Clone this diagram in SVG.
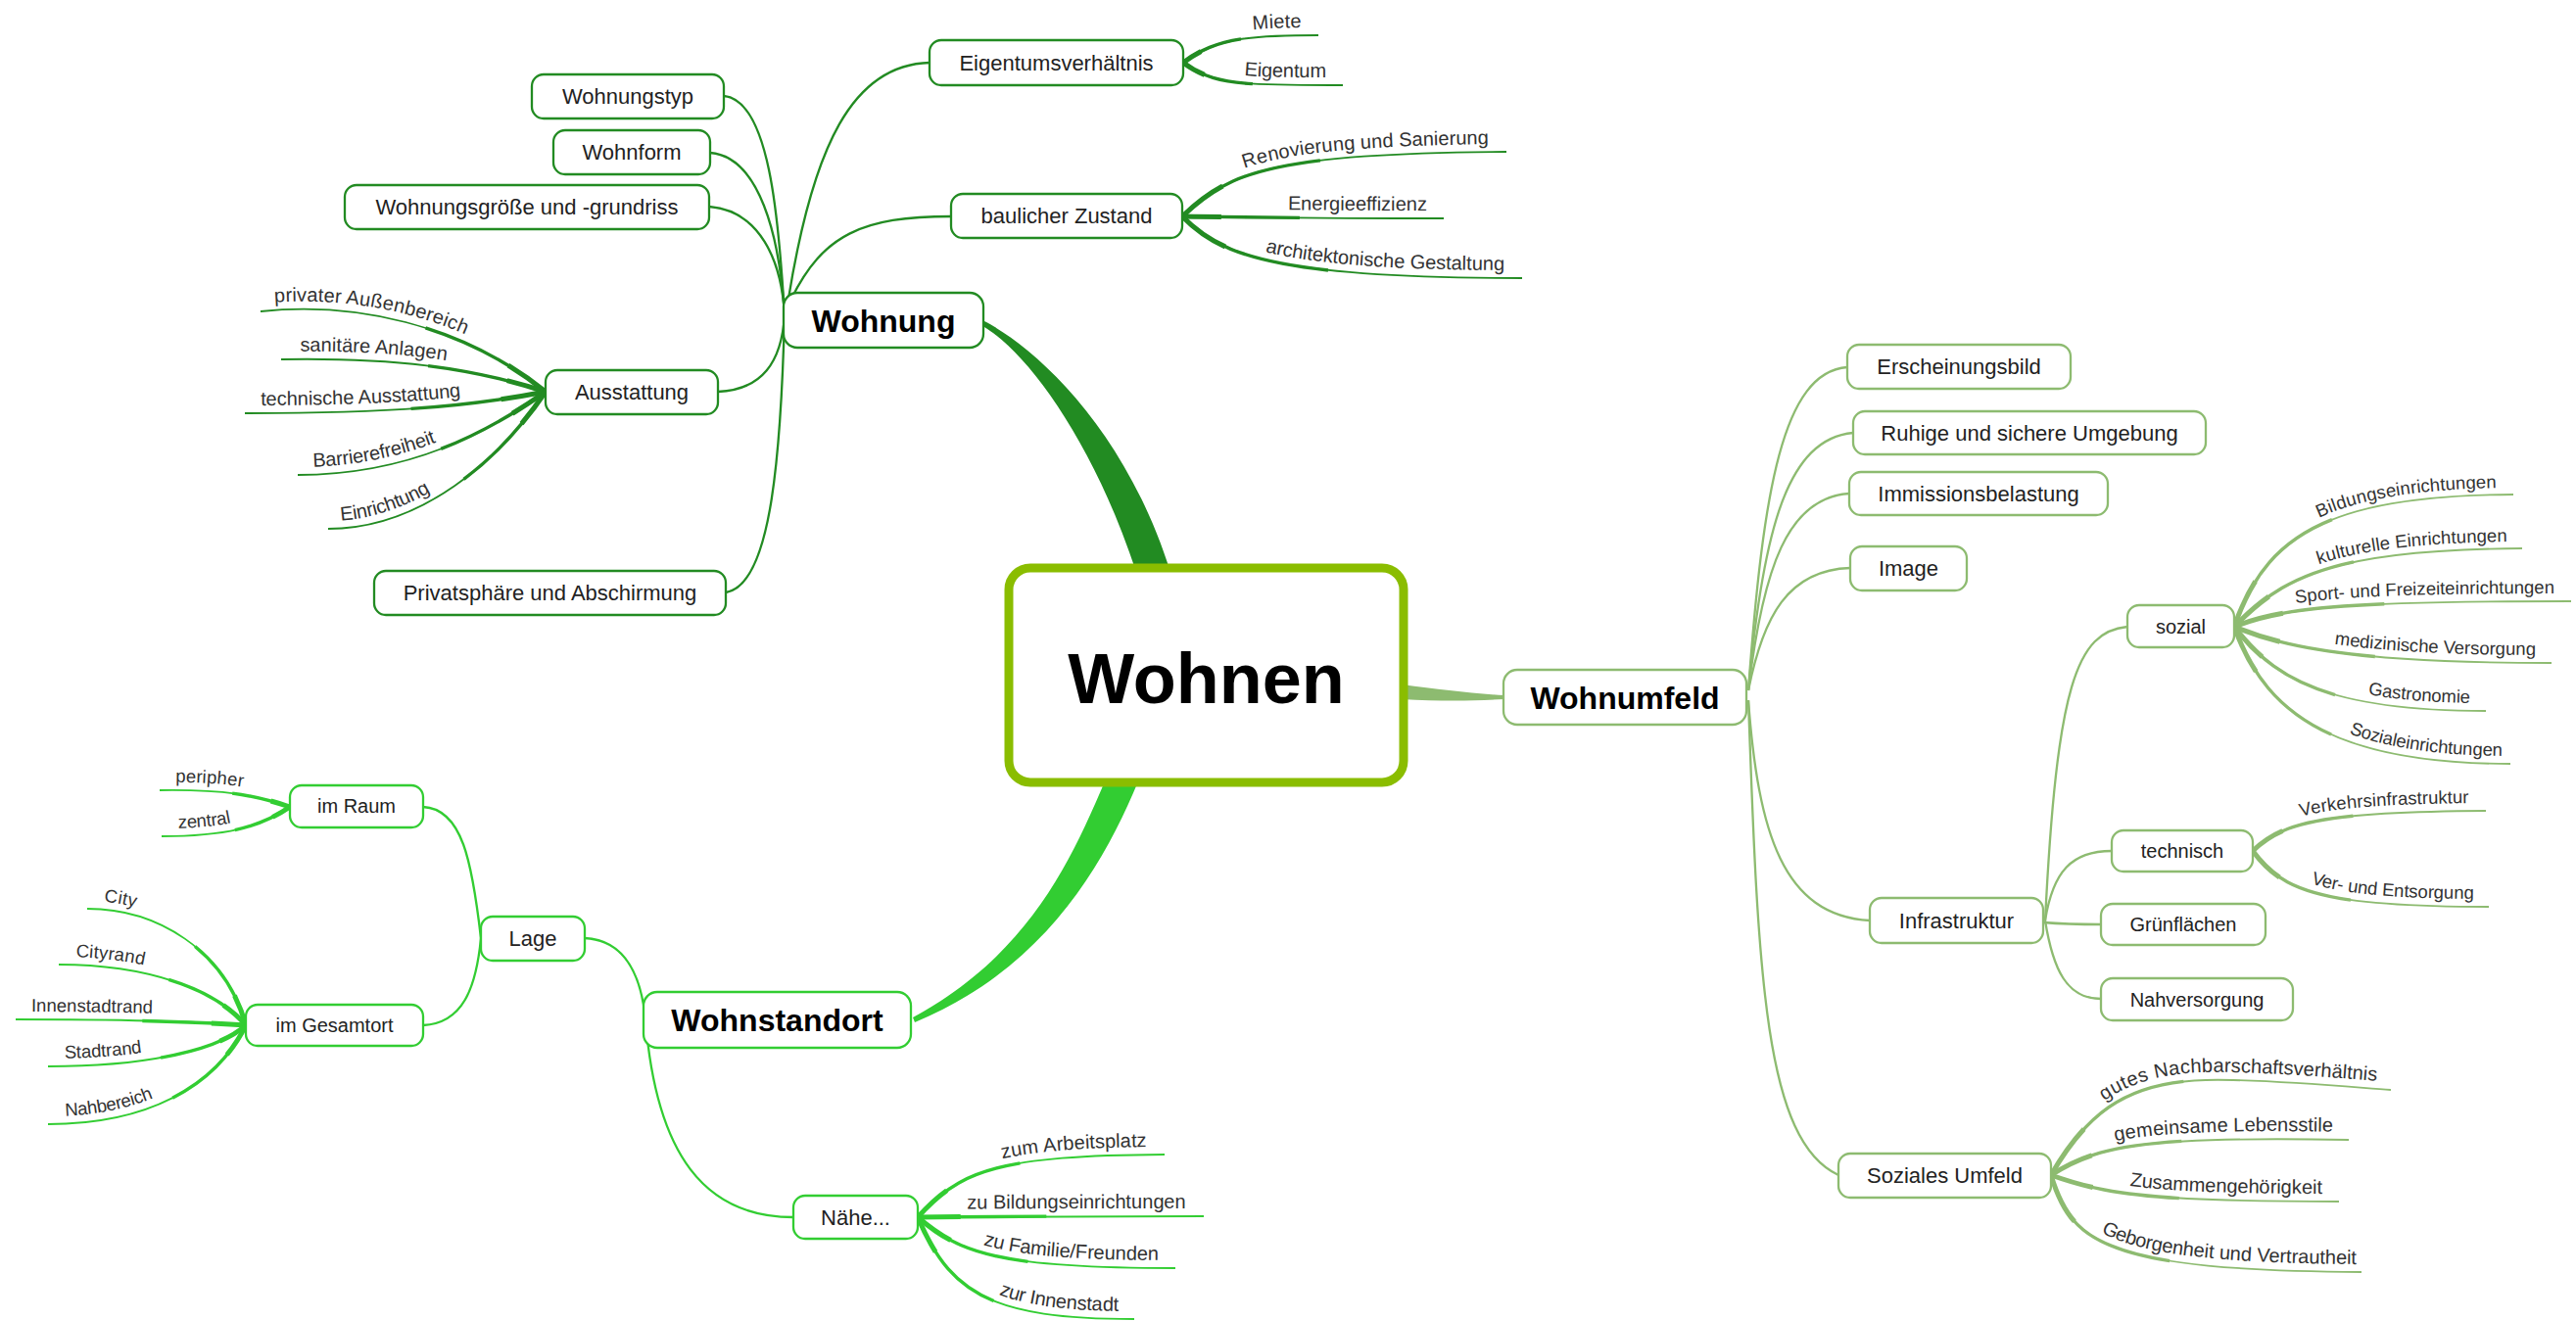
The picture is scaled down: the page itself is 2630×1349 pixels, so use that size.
<svg xmlns="http://www.w3.org/2000/svg" width="2630" height="1349" viewBox="0 0 2630 1349">
<style>
text{font-family:"Liberation Sans",Arial,sans-serif;fill:#222}
.n rect{fill:#fff;stroke-width:2.3}
.k1 rect{stroke:#228B22}
.k2 rect{stroke:#32CD32}
.k3 rect{stroke:#8DBB70}
.t0{font-size:72px;font-weight:bold;fill:#000;text-anchor:middle}
.t1{font-size:32px;font-weight:bold;fill:#000;text-anchor:middle}
.t2{font-size:22px;text-anchor:middle}
.t3{font-size:20px;text-anchor:middle}
.l3{font-size:20px;fill:#333}
.l4{font-size:18.5px;fill:#333}
.e{text-anchor:end}
.s{text-anchor:start}
.w1{stroke:#228B22;fill:none}
.w2{stroke:#32CD32;fill:none}
.w3{stroke:#8DBB70;fill:none}
.ta{stroke-width:3.4;stroke-dasharray:45 200}
.tb{stroke-width:5;stroke-dasharray:15 200}
.tc{stroke-width:3.4;stroke-dasharray:0 55 45 0}
.td{stroke-width:5;stroke-dasharray:0 85 15 0}
</style>
<g id="connectors">
  <g id="main-branches" stroke="none">
    <path fill="#228B22" d="M 1005 328 C 1052 352, 1147 432, 1195 584 L 1160 584 C 1115 448, 1048 360, 1005 334 Z"/>
    <path fill="#32CD32" d="M 1128 798 C 1093 880, 1050 975, 932 1039 L 934 1044 C 1068 988, 1127 882, 1162 798 Z"/>
    <path fill="#8DBB70" d="M 1431 699 C 1470 704, 1500 708, 1536 710 L 1536 714 C 1500 716, 1470 716, 1431 714 Z"/>
  </g>
  <g id="branches-wohnung" class="w1" stroke-width="2.3">
    <path d="M 739 98 C 785 102, 795 220, 801 322"/>
    <path d="M 725 156 C 775 160, 796 240, 801 322"/>
    <path d="M 724 211 C 775 215, 798 265, 801 322"/>
    <path d="M 733 400 C 778 398, 798 370, 801 322"/>
    <path d="M 741 605 C 785 598, 797 480, 801 322"/>
    <path d="M 805 305 C 830 150, 870 66, 949 64"/>
    <path d="M 808 305 C 840 240, 880 221, 971 221"/>
  </g>
  <g id="branches-wohnstandort" class="w2" stroke-width="2.3">
    <path d="M 597 958 C 640 960, 655 1000, 659 1041"/>
    <path d="M 659 1041 C 670 1180, 720 1243, 810 1243"/>
    <path d="M 432 824 C 472 826, 482 880, 491 958"/>
    <path d="M 432 1047 C 472 1045, 486 1010, 491 958"/>
  </g>
  <g id="branches-wohnumfeld" class="w3" stroke-width="2.3">
    <path d="M 1785 705 C 1800 500, 1820 380, 1886 375"/>
    <path d="M 1785 705 C 1800 540, 1825 448, 1892 442"/>
    <path d="M 1785 705 C 1800 580, 1825 508, 1888 504"/>
    <path d="M 1785 705 C 1800 630, 1825 582, 1889 580"/>
    <path d="M 1785 715 C 1795 850, 1820 935, 1909 940"/>
    <path d="M 1785 715 C 1795 1000, 1802 1165, 1877 1200"/>
    <path d="M 2088 940 C 2100 700, 2120 645, 2172 640"/>
    <path d="M 2088 940 C 2096 890, 2115 869, 2156 869"/>
    <path d="M 2086 942 C 2110 944, 2125 944, 2145 944"/>
    <path d="M 2088 940 C 2096 990, 2110 1020, 2145 1020"/>
  </g>
  <g id="leaves-wohnung" class="w1" stroke-width="1.8">
    <path id="L_miete" pathLength="100" d="M 1208 64 C 1240 40, 1270 36, 1346 36"/>
    <path id="L_eigentum" pathLength="100" d="M 1208 64 C 1240 88, 1275 87, 1371 87"/>
    <path id="L_renov" pathLength="100" d="M 1207 221 C 1255 175, 1300 157, 1538 155"/>
    <path id="L_energie" pathLength="100" d="M 1207 221 C 1280 222, 1350 223, 1474 223"/>
    <path id="L_archi" pathLength="100" d="M 1207 221 C 1245 260, 1300 284, 1554 284"/>
    <path id="L_priv" pathLength="100" d="M 266 318 C 360 308, 470 330, 557 400"/>
    <path id="L_sanit" pathLength="100" d="M 287 367 C 400 365, 480 375, 557 400"/>
    <path id="L_techA" pathLength="100" d="M 250 422 C 400 422, 480 415, 557 400"/>
    <path id="L_barr" pathLength="100" d="M 304 485 C 420 485, 500 440, 557 400"/>
    <path id="L_einr" pathLength="100" d="M 335 540 C 430 540, 510 470, 557 400"/>
    <use href="#L_miete" class="ta"/><use href="#L_miete" class="tb"/>
    <use href="#L_eigentum" class="ta"/><use href="#L_eigentum" class="tb"/>
    <use href="#L_renov" class="ta"/><use href="#L_renov" class="tb"/>
    <use href="#L_energie" class="ta"/><use href="#L_energie" class="tb"/>
    <use href="#L_archi" class="ta"/><use href="#L_archi" class="tb"/>
    <use href="#L_priv" class="tc"/><use href="#L_priv" class="td"/>
    <use href="#L_sanit" class="tc"/><use href="#L_sanit" class="td"/>
    <use href="#L_techA" class="tc"/><use href="#L_techA" class="td"/>
    <use href="#L_barr" class="tc"/><use href="#L_barr" class="td"/>
    <use href="#L_einr" class="tc"/><use href="#L_einr" class="td"/>
  </g>
  <g id="leaves-wohnstandort" class="w2" stroke-width="1.8">
    <path id="L_periph" pathLength="100" d="M 163 807 C 230 806, 260 812, 296 824"/>
    <path id="L_zentral" pathLength="100" d="M 165 854 C 230 854, 265 845, 296 824"/>
    <path id="L_city" pathLength="100" d="M 89 928 C 160 928, 230 970, 251 1047"/>
    <path id="L_cityrand" pathLength="100" d="M 60 985 C 150 985, 220 1010, 251 1047"/>
    <path id="L_innen" pathLength="100" d="M 16 1041 C 100 1041, 200 1043, 251 1047"/>
    <path id="L_stadtr" pathLength="100" d="M 49 1089 C 140 1089, 220 1075, 251 1047"/>
    <path id="L_nahb" pathLength="100" d="M 49 1148 C 150 1148, 220 1110, 251 1047"/>
    <path id="L_arbeit" pathLength="100" d="M 937 1243 C 980 1195, 1020 1180, 1189 1179"/>
    <path id="L_bildZ" pathLength="100" d="M 937 1243 C 1000 1242, 1100 1242, 1229 1242"/>
    <path id="L_famil" pathLength="100" d="M 937 1243 C 980 1280, 1020 1295, 1200 1295"/>
    <path id="L_innenst" pathLength="100" d="M 937 1243 C 970 1320, 1010 1347, 1158 1347"/>
    <use href="#L_periph" class="tc"/><use href="#L_periph" class="td"/>
    <use href="#L_zentral" class="tc"/><use href="#L_zentral" class="td"/>
    <use href="#L_city" class="tc"/><use href="#L_city" class="td"/>
    <use href="#L_cityrand" class="tc"/><use href="#L_cityrand" class="td"/>
    <use href="#L_innen" class="tc"/><use href="#L_innen" class="td"/>
    <use href="#L_stadtr" class="tc"/><use href="#L_stadtr" class="td"/>
    <use href="#L_nahb" class="tc"/><use href="#L_nahb" class="td"/>
    <use href="#L_arbeit" class="ta"/><use href="#L_arbeit" class="tb"/>
    <use href="#L_bildZ" class="ta"/><use href="#L_bildZ" class="tb"/>
    <use href="#L_famil" class="ta"/><use href="#L_famil" class="tb"/>
    <use href="#L_innenst" class="ta"/><use href="#L_innenst" class="tb"/>
  </g>
  <g id="leaves-wohnumfeld" class="w3" stroke-width="1.8">
    <path id="L_bild" pathLength="100" d="M 2281 640 C 2312 552, 2368 506, 2566 505"/>
    <path id="L_kult" pathLength="100" d="M 2281 640 C 2330 590, 2380 561, 2575 560"/>
    <path id="L_sport" pathLength="100" d="M 2281 640 C 2330 620, 2400 614, 2625 614"/>
    <path id="L_med" pathLength="100" d="M 2281 640 C 2330 660, 2400 677, 2605 677"/>
    <path id="L_gastro" pathLength="100" d="M 2281 640 C 2320 690, 2370 726, 2538 726"/>
    <path id="L_sozE" pathLength="100" d="M 2281 640 C 2310 720, 2370 780, 2563 780"/>
    <path id="L_verk" pathLength="100" d="M 2300 869 C 2330 840, 2370 829, 2538 828"/>
    <path id="L_versE" pathLength="100" d="M 2300 869 C 2330 910, 2370 926, 2541 926"/>
    <path id="L_nachb" pathLength="100" d="M 2094 1200 C 2140 1120, 2190 1100, 2280 1103 C 2350 1105, 2400 1110, 2441 1113"/>
    <path id="L_gemein" pathLength="100" d="M 2094 1200 C 2140 1170, 2190 1160, 2398 1164"/>
    <path id="L_zusam" pathLength="100" d="M 2094 1200 C 2150 1220, 2200 1227, 2388 1227"/>
    <path id="L_gebor" pathLength="100" d="M 2094 1200 C 2115 1270, 2150 1297, 2411 1299"/>
    <use href="#L_bild" class="ta"/><use href="#L_bild" class="tb"/>
    <use href="#L_kult" class="ta"/><use href="#L_kult" class="tb"/>
    <use href="#L_sport" class="ta"/><use href="#L_sport" class="tb"/>
    <use href="#L_med" class="ta"/><use href="#L_med" class="tb"/>
    <use href="#L_gastro" class="ta"/><use href="#L_gastro" class="tb"/>
    <use href="#L_sozE" class="ta"/><use href="#L_sozE" class="tb"/>
    <use href="#L_verk" class="ta"/><use href="#L_verk" class="tb"/>
    <use href="#L_versE" class="ta"/><use href="#L_versE" class="tb"/>
    <use href="#L_nachb" class="ta"/><use href="#L_nachb" class="tb"/>
    <use href="#L_gemein" class="ta"/><use href="#L_gemein" class="tb"/>
    <use href="#L_zusam" class="ta"/><use href="#L_zusam" class="tb"/>
    <use href="#L_gebor" class="ta"/><use href="#L_gebor" class="tb"/>
  </g>
</g>

<g id="node-wohnen"><rect x="1030" y="580" width="403" height="219" rx="22" fill="#fff" stroke="#8ABD00" stroke-width="9"/><text class="t0" x="1231.5" y="718">Wohnen</text></g>

<g id="node-wohnung" class="n k1"><rect x="800" y="299" width="204" height="56" rx="14"/><text class="t1" x="902" y="339">Wohnung</text></g>
<g id="node-wohnstandort" class="n k2"><rect x="657" y="1013" width="273" height="57" rx="14"/><text class="t1" x="793.5" y="1053">Wohnstandort</text></g>
<g id="node-wohnumfeld" class="n k3"><rect x="1535" y="684" width="248" height="56" rx="14"/><text class="t1" x="1659" y="724">Wohnumfeld</text></g>

<g id="node-eigentumsverhaeltnis" class="n k1"><rect x="949" y="41" width="259" height="46" rx="12"/><text class="t2" x="1078.5" y="72">Eigentumsverhältnis</text></g>
<g id="node-baulicher-zustand" class="n k1"><rect x="971" y="198" width="236" height="45" rx="12"/><text class="t2" x="1089" y="228">baulicher Zustand</text></g>
<g id="node-wohnungstyp" class="n k1"><rect x="543" y="76" width="196" height="45" rx="12"/><text class="t2" x="641" y="106">Wohnungstyp</text></g>
<g id="node-wohnform" class="n k1"><rect x="565" y="133" width="160" height="45" rx="12"/><text class="t2" x="645" y="163">Wohnform</text></g>
<g id="node-wohnungsgroesse" class="n k1"><rect x="352" y="189" width="372" height="45" rx="12"/><text class="t2" x="538" y="219">Wohnungsgröße und -grundriss</text></g>
<g id="node-ausstattung" class="n k1"><rect x="557" y="378" width="176" height="45" rx="12"/><text class="t2" x="645" y="408">Ausstattung</text></g>
<g id="node-privatsphaere" class="n k1"><rect x="382" y="583" width="359" height="45" rx="12"/><text class="t2" x="561.5" y="613">Privatsphäre und Abschirmung</text></g>

<g id="node-lage" class="n k2"><rect x="491" y="936" width="106" height="45" rx="12"/><text class="t2" x="544" y="966">Lage</text></g>
<g id="node-naehe" class="n k2"><rect x="810" y="1221" width="127" height="44" rx="12"/><text class="t2" x="873.5" y="1251">Nähe...</text></g>
<g id="node-im-raum" class="n k2"><rect x="296" y="802" width="136" height="43" rx="12"/><text class="t3" x="364" y="830">im Raum</text></g>
<g id="node-im-gesamtort" class="n k2"><rect x="251" y="1026" width="181" height="42" rx="12"/><text class="t3" x="341.5" y="1054">im Gesamtort</text></g>

<g id="node-erscheinungsbild" class="n k3"><rect x="1886" y="352" width="228" height="45" rx="12"/><text class="t2" x="2000" y="382">Erscheinungsbild</text></g>
<g id="node-ruhige" class="n k3"><rect x="1892" y="420" width="360" height="44" rx="12"/><text class="t2" x="2072" y="450">Ruhige und sichere Umgebung</text></g>
<g id="node-immissionsbelastung" class="n k3"><rect x="1888" y="482" width="264" height="44" rx="12"/><text class="t2" x="2020" y="512">Immissionsbelastung</text></g>
<g id="node-image" class="n k3"><rect x="1889" y="558" width="119" height="45" rx="12"/><text class="t2" x="1948.5" y="588">Image</text></g>
<g id="node-infrastruktur" class="n k3"><rect x="1909" y="917" width="177" height="46" rx="12"/><text class="t2" x="1997.5" y="948">Infrastruktur</text></g>
<g id="node-soziales-umfeld" class="n k3"><rect x="1877" y="1178" width="217" height="45" rx="12"/><text class="t2" x="1985.5" y="1208">Soziales Umfeld</text></g>
<g id="node-sozial" class="n k3"><rect x="2172" y="618" width="109" height="43" rx="12"/><text class="t3" x="2226.5" y="647">sozial</text></g>
<g id="node-technisch" class="n k3"><rect x="2156" y="848" width="144" height="42" rx="12"/><text class="t3" x="2228" y="876">technisch</text></g>
<g id="node-gruenflaechen" class="n k3"><rect x="2145" y="923" width="168" height="42" rx="12"/><text class="t3" x="2229" y="951">Grünflächen</text></g>
<g id="node-nahversorgung" class="n k3"><rect x="2145" y="999" width="196" height="43" rx="12"/><text class="t3" x="2243" y="1028">Nahversorgung</text></g>

<g id="leaf-miete"><text class="l3 e" dy="-8"><textPath href="#L_miete" startOffset="88%">Miete</textPath></text></g>
<g id="leaf-eigentum"><text class="l3 e" dy="-8"><textPath href="#L_eigentum" startOffset="90%">Eigentum</textPath></text></g>
<g id="leaf-renovierung"><text class="l3 e" dy="-8"><textPath href="#L_renov" startOffset="94.8%">Renovierung und Sanierung</textPath></text></g>
<g id="leaf-energieeffizienz"><text class="l3 e" dy="-8"><textPath href="#L_energie" startOffset="93.6%">Energieeffizienz</textPath></text></g>
<g id="leaf-architektonische"><text class="l3 e" dy="-8"><textPath href="#L_archi" startOffset="95%">architektonische Gestaltung</textPath></text></g>
<g id="leaf-privater"><text class="l3 s" dy="-8"><textPath href="#L_priv" startOffset="4.8%">privater Außenbereich</textPath></text></g>
<g id="leaf-sanitaere"><text class="l3 s" dy="-8"><textPath href="#L_sanit" startOffset="7%">sanitäre Anlagen</textPath></text></g>
<g id="leaf-technische"><text class="l3 s" dy="-8"><textPath href="#L_techA" startOffset="5.2%">technische Ausstattung</textPath></text></g>
<g id="leaf-barrierefreiheit"><text class="l3 s" dy="-8"><textPath href="#L_barr" startOffset="5.9%">Barrierefreiheit</textPath></text></g>
<g id="leaf-einrichtung"><text class="l3 s" dy="-8"><textPath href="#L_einr" startOffset="5.1%">Einrichtung</textPath></text></g>

<g id="leaf-peripher"><text class="l4 s" dy="-8"><textPath href="#L_periph" startOffset="11.9%">peripher</textPath></text></g>
<g id="leaf-zentral"><text class="l4 s" dy="-8"><textPath href="#L_zentral" startOffset="12.6%">zentral</textPath></text></g>
<g id="leaf-city"><text class="l4 s" dy="-8"><textPath href="#L_city" startOffset="7.4%">City</textPath></text></g>
<g id="leaf-cityrand"><text class="l4 s" dy="-8"><textPath href="#L_cityrand" startOffset="8.2%">Cityrand</textPath></text></g>
<g id="leaf-innenstadtrand"><text class="l4 s" dy="-8"><textPath href="#L_innen" startOffset="6.8%">Innenstadtrand</textPath></text></g>
<g id="leaf-stadtrand"><text class="l4 s" dy="-8"><textPath href="#L_stadtr" startOffset="8.1%">Stadtrand</textPath></text></g>
<g id="leaf-nahbereich"><text class="l4 s" dy="-8"><textPath href="#L_nahb" startOffset="7.6%">Nahbereich</textPath></text></g>
<g id="leaf-arbeitsplatz"><text class="l3 e" dy="-8"><textPath href="#L_arbeit" startOffset="93.3%">zum Arbeitsplatz</textPath></text></g>
<g id="leaf-bildungseinrichtungen-z"><text class="l3 e" dy="-8"><textPath href="#L_bildZ" startOffset="93.8%">zu Bildungseinrichtungen</textPath></text></g>
<g id="leaf-familie"><text class="l3 e" dy="-8"><textPath href="#L_famil" startOffset="93.8%">zu Familie/Freunden</textPath></text></g>
<g id="leaf-innenstadt"><text class="l3 e" dy="-8"><textPath href="#L_innenst" startOffset="94%">zur Innenstadt</textPath></text></g>

<g id="leaf-bildungseinrichtungen"><text class="l4 e" dy="-7"><textPath href="#L_bild" startOffset="95%">Bildungseinrichtungen</textPath></text></g>
<g id="leaf-kulturelle"><text class="l4 e" dy="-7"><textPath href="#L_kult" startOffset="95.2%">kulturelle Einrichtungen</textPath></text></g>
<g id="leaf-sport"><text class="l4 e" dy="-8"><textPath href="#L_sport" startOffset="95.1%">Sport- und Freizeiteinrichtungen</textPath></text></g>
<g id="leaf-medizinische"><text class="l4 e" dy="-8"><textPath href="#L_med" startOffset="95.1%">medizinische Versorgung</textPath></text></g>
<g id="leaf-gastronomie"><text class="l4 e" dy="-8"><textPath href="#L_gastro" startOffset="94.3%">Gastronomie</textPath></text></g>
<g id="leaf-sozialeinrichtungen"><text class="l4 e" dy="-8"><textPath href="#L_sozE" startOffset="97.6%">Sozialeinrichtungen</textPath></text></g>
<g id="leaf-verkehr"><text class="l4 e" dy="-8"><textPath href="#L_verk" startOffset="93%">Verkehrsinfrastruktur</textPath></text></g>
<g id="leaf-versorgung"><text class="l4 e" dy="-8"><textPath href="#L_versE" startOffset="94.1%">Ver- und Entsorgung</textPath></text></g>
<g id="leaf-nachbarschaft"><text class="l3 e" dy="-8"><textPath href="#L_nachb" startOffset="96.1%">gutes Nachbarschaftsverhältnis</textPath></text></g>
<g id="leaf-lebensstile"><text class="l3 e" dy="-8"><textPath href="#L_gemein" startOffset="94.8%">gemeinsame Lebensstile</textPath></text></g>
<g id="leaf-zusammengehoerigkeit"><text class="l3 e" dy="-8"><textPath href="#L_zusam" startOffset="94.3%">Zusammengehörigkeit</textPath></text></g>
<g id="leaf-geborgenheit"><text class="l3 e" dy="-8"><textPath href="#L_gebor" startOffset="98.6%">Geborgenheit und Vertrautheit</textPath></text></g>
</svg>
